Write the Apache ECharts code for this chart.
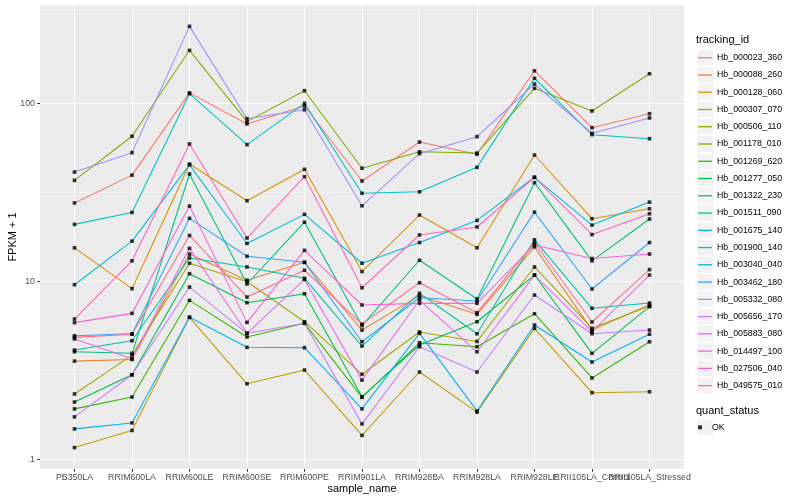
<!DOCTYPE html>
<html>
<head>
<meta charset="utf-8">
<script src="https://cdn.jsdelivr.net/npm/echarts@6/dist/echarts.min.js"></script>
<style>html,body{margin:0;padding:0;background:#ffffff}#chart{width:800px;height:500px}</style>
</head>
<body>
<div id="chart"></div>
<script>
// ---- data ----
const categories = ['PB350LA','RRIM600LA','RRIM600LE','RRIM600SE','RRIM600PE','RRIM901LA','RRIM928BA','RRIM928LA','RRIM928LE','RRII105LA_Control','RRII105LA_Stressed'];
const trackingIds = ['Hb_000023_360','Hb_000088_260','Hb_000128_060','Hb_000307_070','Hb_000506_110','Hb_001178_010','Hb_001269_620','Hb_001277_050','Hb_001322_230','Hb_001511_090','Hb_001675_140','Hb_001900_140','Hb_003040_040','Hb_003462_180','Hb_005332_080','Hb_005656_170','Hb_005883_080','Hb_014497_100','Hb_027506_040','Hb_049575_010'];
const colors = ['#F8766D','#EA8331','#D89000','#C09B00','#A3A500','#7CAE00','#39B600','#00BB4E','#00BF7D','#00C1A3','#00BFC4','#00BAE0','#00B0F6','#35A2FF','#9590FF','#C77CFF','#E76BF3','#FA62DB','#FF62BC','#FF6C91'];
const Hb_000023_360 = [27.7, 39.7, 115, 76.9, 97.1, 36.8, 60.9, 52.0, 153, 73.3, 87.9];
const Hb_000088_260 = [3.58, 3.66, 14.3, 10.2, 12.85, 5.35, 8.35, 6.56, 15.7, 5.35, 7.43];
const Hb_000128_060 = [15.5, 9.14, 45.8, 28.5, 42.8, 11.4, 23.7, 15.5, 51.5, 22.6, 25.7];
const Hb_000307_070 = [1.17, 1.46, 6.31, 2.67, 3.19, 1.37, 3.11, 1.85, 5.47, 2.38, 2.41];
const Hb_000506_110 = [2.34, 3.87, 12.7, 10.0, 5.96, 3.02, 5.22, 4.62, 12.1, 5.47, 7.3];
const Hb_001178_010 = [37.1, 65.6, 199.5, 79.3, 118.3, 43.4, 53.7, 52.8, 122, 91.0, 147.4];
const Hb_001269_620 = [1.93, 2.25, 7.86, 4.89, 5.84, 2.24, 4.54, 4.31, 6.61, 2.88, 4.60];
const Hb_001277_050 = [2.11, 3.00, 11.1, 7.62, 8.56, 2.26, 4.41, 5.96, 10.9, 3.96, 7.24];
const Hb_001322_230 = [4.04, 3.96, 40.3, 9.71, 21.6, 5.66, 13.2, 8.00, 36.0, 13.1, 22.5];
const Hb_001511_090 = [4.13, 4.66, 13.6, 12.1, 10.45, 4.35, 8.61, 5.10, 17.2, 7.09, 7.59];
const Hb_001675_140 = [21.0, 24.5, 113.8, 58.9, 100.5, 31.4, 32.0, 43.9, 139, 67.0, 63.6];
const Hb_001900_140 = [9.62, 16.9, 45.3, 16.4, 23.9, 12.7, 16.6, 22.1, 38.6, 20.8, 28.0];
const Hb_003040_040 = [1.49, 1.61, 6.31, 4.28, 4.26, 1.93, 5.13, 1.88, 5.71, 3.54, 5.07];
const Hb_003462_180 = [4.97, 5.10, 22.7, 13.9, 12.85, 4.60, 8.13, 7.79, 24.6, 9.10, 16.6];
const Hb_005332_080 = [41.3, 53.1, 272, 82.4, 92.5, 26.7, 52.4, 65.3, 129, 68.2, 83.2];
const Hb_005656_170 = [1.74, 3.00, 9.33, 5.13, 5.85, 1.59, 4.31, 3.11, 8.42, 5.10, 5.35];
const Hb_005883_080 = [4.77, 3.69, 15.4, 5.13, 10.3, 2.80, 7.89, 4.04, 10.9, 5.24, 10.9];
const Hb_014497_100 = [5.89, 6.64, 26.6, 5.91, 15.0, 7.40, 7.56, 7.56, 16.1, 13.5, 14.3];
const Hb_027506_040 = [6.17, 13.1, 59.4, 17.6, 38.9, 9.25, 18.3, 20.3, 38.6, 18.4, 24.1];
const Hb_049575_010 = [4.87, 5.07, 18.2, 8.20, 11.6, 5.78, 9.87, 6.70, 16.6, 5.94, 11.7];
const seriesValues = [Hb_000023_360, Hb_000088_260, Hb_000128_060, Hb_000307_070, Hb_000506_110, Hb_001178_010, Hb_001269_620, Hb_001277_050, Hb_001322_230, Hb_001511_090, Hb_001675_140, Hb_001900_140, Hb_003040_040, Hb_003462_180, Hb_005332_080, Hb_005656_170, Hb_005883_080, Hb_014497_100, Hb_027506_040, Hb_049575_010];
const yTicks = [1, 10, 100];
const yMinorBreaks = [3.162, 31.62, 316.2];
const quantStatus = ['OK'];

// ---- chart ----
const FONT = '"Liberation Sans", Arial, Helvetica, sans-serif';
const chart = echarts.init(document.getElementById('chart'), null, { renderer: 'canvas' });
const xIdx = categories.map((_, i) => i);
const toPairs = arr => arr.map((v, i) => [i, v]);

const lineSeries = trackingIds.map((id, k) => ({
  type: 'line', name: id, data: toPairs(seriesValues[k]),
  xAxisIndex: 0, yAxisIndex: 0,
  symbol: 'none', showSymbol: false, silent: true, z: 2,
  lineStyle: { color: colors[k], width: 1.07 },
  itemStyle: { color: colors[k] },
  emphasis: { disabled: true }
}));
const pointData = [];
seriesValues.forEach(arr => arr.forEach((v, i) => pointData.push([i, v])));
const pointSeries = {
  type: 'scatter', name: quantStatus[0], data: pointData,
  xAxisIndex: 0, yAxisIndex: 0,
  symbol: 'rect', symbolSize: 3.6, silent: true, z: 3,
  itemStyle: { color: '#000000' }, emphasis: { disabled: true }
};

// panel geometry (ggplot discrete expansion of 0.6 category on each side)
const PANEL_L = 40, PANEL_W = 644, PANEL_T = 5, PANEL_H = 464;
const unit = PANEL_W / (categories.length - 1 + 1.2);

// legend key backgrounds and titles
const keyTop = 57.7, keyStep = 17.26;
const graphics = [];
trackingIds.forEach((_, k) => {
  graphics.push({ type: 'rect', left: 697.4, top: keyTop + k * keyStep - 7.8, shape: { width: 15.6, height: 15.6 }, style: { fill: '#F2F2F2' }, silent: true });
});
graphics.push({ type: 'rect', left: 697.4, top: 427.3 - 7.8, shape: { width: 15.6, height: 15.6 }, style: { fill: '#F2F2F2' }, silent: true });
graphics.push({ type: 'text', left: 696, top: 34.5, style: { text: 'tracking_id', fontSize: 11, fill: '#000000', fontFamily: FONT }, silent: true });
graphics.push({ type: 'text', left: 696, top: 405.5, style: { text: 'quant_status', fontSize: 11, fill: '#000000', fontFamily: FONT }, silent: true });

const option = {
  animation: false,
  backgroundColor: '#FFFFFF',
  textStyle: { fontFamily: FONT },
  grid: [
    { left: PANEL_L, top: PANEL_T, width: PANEL_W, height: PANEL_H, show: true, backgroundColor: '#EBEBEB', borderWidth: 0, containLabel: false, outerBoundsMode: 'none' },
    { left: PANEL_L + unit * 0.1, top: PANEL_T, width: unit * categories.length, height: PANEL_H, show: false, containLabel: false, outerBoundsMode: 'none' }
  ],
  xAxis: [{
    type: 'value', gridIndex: 0, min: -0.6, max: 10.6, position: 'bottom',
    axisLine: { show: false, onZero: false },
    axisTick: { show: true, length: 2.75, customValues: xIdx, lineStyle: { color: '#333333', width: 1.07 } },
    axisLabel: { show: false, customValues: xIdx },
    splitLine: { show: true, lineStyle: { color: '#FFFFFF', width: 1.07 } },
    name: 'sample_name', nameLocation: 'middle', nameGap: 14, nameMoveOverlap: false,
    nameTextStyle: { color: '#000000', fontSize: 11 }
  }, {
    type: 'category', gridIndex: 1, data: categories, boundaryGap: true, position: 'bottom',
    axisLine: { show: false, onZero: false }, axisTick: { show: false }, splitLine: { show: false },
    axisLabel: { interval: 0, color: '#4D4D4D', fontSize: 8.8, margin: 3.6, hideOverlap: false }
  }],
  yAxis: [{
    type: 'log', gridIndex: 0, logBase: 10, min: 0.887, max: 358.5, position: 'left',
    axisLine: { show: false, onZero: false },
    axisTick: { show: true, length: 2.75, customValues: yTicks, lineStyle: { color: '#333333', width: 1.07 } },
    axisLabel: { customValues: yTicks, color: '#4D4D4D', fontSize: 8.8, margin: 5 },
    splitLine: { show: true, lineStyle: { color: '#FFFFFF', width: 1.07 } },
    name: 'FPKM + 1', nameLocation: 'middle', nameGap: 22, nameRotate: 90, nameMoveOverlap: false,
    nameTextStyle: { color: '#000000', fontSize: 11 }
  }, {
    type: 'log', gridIndex: 0, logBase: 10, min: 0.887, max: 358.5, position: 'right',
    axisLine: { show: false, onZero: false },
    axisTick: { show: false, customValues: yMinorBreaks },
    axisLabel: { show: false, customValues: yMinorBreaks },
    splitLine: { show: true, lineStyle: { color: '#FFFFFF', width: 0.53 } }
  }, {
    type: 'value', gridIndex: 1, show: false, min: 0, max: 1,
    axisLine: { show: false, onZero: false },
    splitLine: { show: false }
  }],
  legend: [{
    data: trackingIds, orient: 'vertical', left: 698, top: 49.07, padding: 0,
    itemGap: 0, itemWidth: 14, itemHeight: 1.3, icon: 'rect', selectedMode: false,
    itemStyle: { borderWidth: 0 },
    textStyle: { fontSize: 8.8, color: '#000000', lineHeight: 17.26 }
  }, {
    data: quantStatus, orient: 'vertical', left: 698, top: 418.67, padding: 0,
    itemGap: 0, itemWidth: 14, itemHeight: 4, icon: 'path://M0,0H4V4H0Z', selectedMode: false,
    itemStyle: { borderWidth: 0, color: '#000000' },
    textStyle: { fontSize: 8.8, color: '#000000', lineHeight: 17.26 }
  }],
  graphic: { elements: graphics },
  series: lineSeries.concat([pointSeries])
};
chart.setOption(option);
</script>
</body>
</html>
